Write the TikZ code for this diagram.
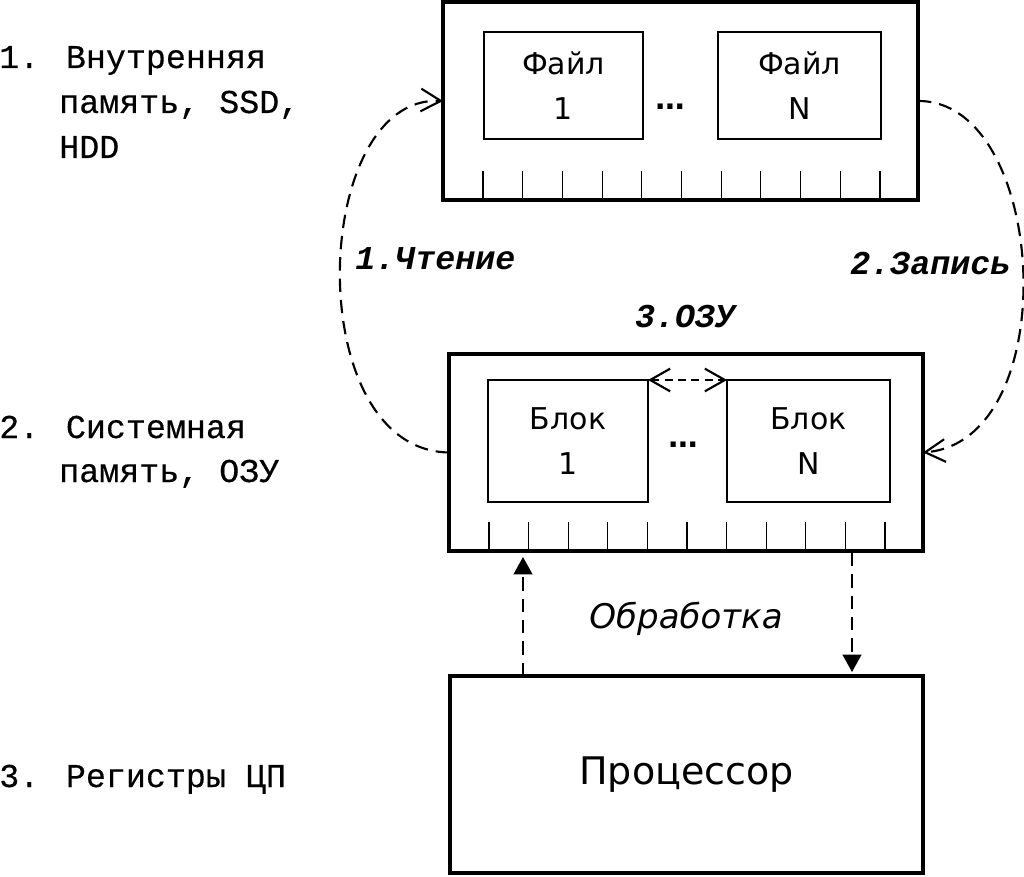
\documentclass[tikz,border=0pt]{standalone}
\usepackage{fontspec}
\setmainfont{DejaVu Sans}
\newfontfamily\monofont{Liberation Mono}[FakeBold=0.4]
\newfontfamily\monobi{Liberation Mono}
\usetikzlibrary{arrows.meta,calc}
\begin{document}
\begin{tikzpicture}[x=0.75pt,y=-0.75pt,
  membox/.style={draw, line width=3pt, inner sep=0pt, outer sep=0pt},
  itembox/.style={draw, line width=2pt, inner sep=0pt, outer sep=0pt, align=center,
    font=\fontsize{22.5}{33.5}\selectfont},
  tickline/.style={line width=0.8pt},
  lvl/.style={anchor=base west, inner sep=0pt, font=\monofont\fontsize{25}{30}\selectfont},
  oplabel/.style={anchor=base west, inner sep=0pt, font=\monobi\bfseries\itshape\fontsize{25}{30}\selectfont},
  dotslabel/.style={anchor=base, inner sep=0pt, font=\bfseries\fontsize{22}{25}\selectfont},
  dcurve/.style={line width=1.6pt, dash pattern=on 10pt off 6pt},
  barb/.tip={Straight Barb[length=15pt,width=17pt]},
  tri/.tip={Triangle[length=13pt,width=14pt]}
]
\useasboundingbox (0,0) rectangle (1024,877);

% memory levels
\node[membox, minimum width={475*0.75pt}, minimum height={198*0.75pt}] (hdd) at (680.5,101) {};
\node[membox, minimum width={474*0.75pt}, minimum height={197*0.75pt}] (ram) at (686,452.5) {};
\node[membox, minimum width={473*0.75pt}, minimum height={197*0.75pt},
      font=\fontsize{28.5}{34}\selectfont] (cpu) at (686.5,774.5) {Процессор};

% files and blocks
\node[itembox, minimum width={159*0.75pt}, minimum height={107*0.75pt}] (f1) at (563.5,85.5) {Файл\\1};
\node[itembox, minimum width={163*0.75pt}, minimum height={107*0.75pt}] (fn) at (799.5,85.5) {Файл\\N};
\node[itembox, minimum width={160*0.75pt}, minimum height={122*0.75pt}] (b1) at (568,441) {Блок\\1};
\node[itembox, minimum width={163*0.75pt}, minimum height={122*0.75pt}] (bn) at (808.5,441) {Блок\\N};
\node[dotslabel] (fdots) at (670,110) {…};
\node[dotslabel] (bdots) at (683,447) {…};

% ticks
\foreach \i in {0,...,10} {
  \draw[tickline] ($(hdd.south west)+({40+39.7*\i},0)$) -- ++(0,-29);
  \draw[tickline] ($(ram.south west)+({40+39.6*\i},0)$) -- ++(0,-29);
}

% level labels
\node[lvl] (l1a) at (-1,68) {1. Внутренняя};
\node[lvl] (l1b) at (59,113) {память, SSD,};
\node[lvl] (l1c) at (59,158) {HDD};
\node[lvl] (l2a) at (-1,438) {2. Системная};
\node[lvl] (l2b) at (59,482) {память, ОЗУ};
\node[lvl] (l3a) at (-1,787) {3. Регистры ЦП};

% operation labels
\node[oplabel] (read) at (355,270) {1.Чтение};
\node[oplabel] (write) at (850,275) {2.Запись};
\node[oplabel, anchor=base] (ozu) at (685,327) {3.ОЗУ};
\node[anchor=base, inner sep=0pt, font=\itshape\fontsize{25.5}{30}\selectfont] (proc) at (686,628) {Обработка};

% connectors
\draw[dcurve, -{barb}] (ram.west) .. controls +(-149,-2.5) and +(-133,-6) .. (hdd.west);
\draw[dcurve, -{barb}] (hdd.east) .. controls +(130,-1) and +(143,-12.5) .. (ram.east);
\draw[line width=1.6pt, dash pattern=on 6pt off 4pt, {barb}-{barb}] (b1.north east) -- (bn.north west);
\draw[line width=1.6pt, dash pattern=on 10pt off 6pt, -{tri}] ($(cpu.north west)+(73,0)$) -- ($(ram.south west)+(74,6)$);
\draw[line width=1.6pt, dash pattern=on 10pt off 6pt, -{tri}] ($(ram.south west)+(403,2)$) -- ($(cpu.north west)+(402,-4)$);
\end{tikzpicture}
\end{document}
